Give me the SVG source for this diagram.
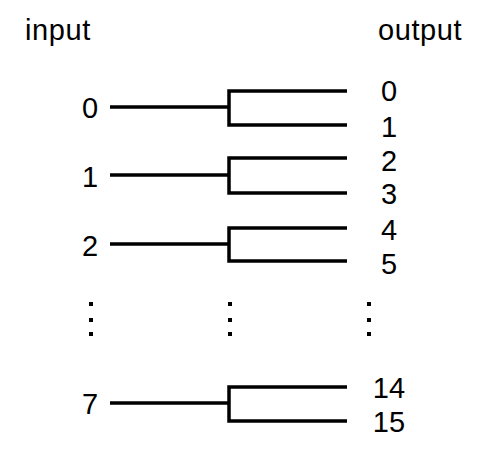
<svg xmlns="http://www.w3.org/2000/svg" width="480" height="463" viewBox="0 0 480 463">
<style>
text{font-family:"Liberation Sans",Arial,sans-serif;font-size:29px;fill:#000}
.h{letter-spacing:0.6px}
.c{fill:none;stroke:#000;stroke-width:3.5}
.m{text-anchor:middle}
.d{fill:#000}
</style>
<rect width="480" height="463" fill="#fff"/>
<g id="headers">
<text class="h" x="25" y="40">input</text>
<text class="h" x="378" y="40">output</text>
</g>
<g id="connectors">
<path class="c" d="M110,107 H229 M347,91 H229 V125 H347"/>
<path class="c" d="M110,175 H229 M347,158 H229 V193 H347"/>
<path class="c" d="M110,244 H229 M347,228 H229 V261 H347"/>
<path class="c" d="M110,403 H229 M347,387 H229 V421 H347"/>
</g>
<g id="in0"><text class="m" x="90" y="118">0</text></g>
<g id="in1"><text class="m" x="90" y="187">1</text></g>
<g id="in2"><text class="m" x="90" y="256">2</text></g>
<g id="in7"><text class="m" x="90" y="414">7</text></g>
<g id="out0"><text class="m" x="389" y="101">0</text></g>
<g id="out1"><text class="m" x="389" y="137">1</text></g>
<g id="out2"><text class="m" x="389" y="171">2</text></g>
<g id="out3"><text class="m" x="389" y="204">3</text></g>
<g id="out4"><text class="m" x="389" y="240">4</text></g>
<g id="out5"><text class="m" x="389" y="274">5</text></g>
<g id="out14"><text class="m" x="389" y="398">14</text></g>
<g id="out15"><text class="m" x="389" y="432">15</text></g>
<g id="ellipsis">
<rect class="d" x="89" y="302" width="4" height="4"/>
<rect class="d" x="89" y="318" width="4" height="4"/>
<rect class="d" x="89" y="332" width="4" height="4"/>
<rect class="d" x="228" y="302" width="4" height="4"/>
<rect class="d" x="228" y="318" width="4" height="4"/>
<rect class="d" x="228" y="332" width="4" height="4"/>
<rect class="d" x="367" y="302" width="4" height="4"/>
<rect class="d" x="367" y="318" width="4" height="4"/>
<rect class="d" x="367" y="332" width="4" height="4"/>
</g>
</svg>
